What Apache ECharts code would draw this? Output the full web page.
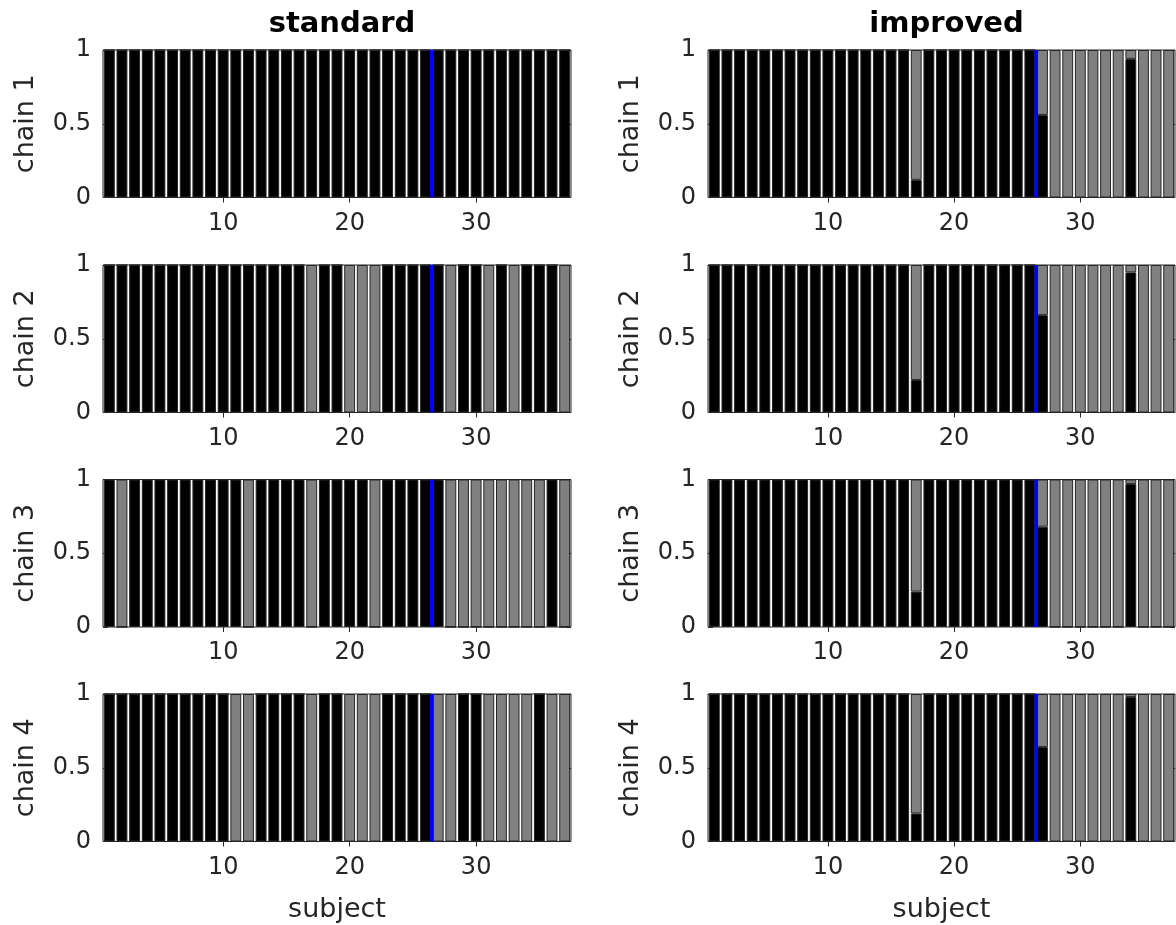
<!DOCTYPE html>
<html>
<head>
<meta charset="utf-8">
<script src="https://cdn.jsdelivr.net/npm/echarts@6/dist/echarts.min.js"></script>
<style>
  html, body { margin: 0; padding: 0; background: #fff; }
  #chart { width: 1176px; height: 925px; }
</style>
</head>
<body>
<div id="chart"></div>
<script>
// subjects on the x axis
const subjects = [1, 2, 3, 4, 5, 6, 7, 8, 9, 10, 11, 12, 13, 14, 15, 16, 17, 18, 19,
  20, 21, 22, 23, 24, 25, 26, 27, 28, 29, 30, 31, 32, 33, 34, 35, 36, 37]
const xTicks = [10, 20, 30]
const splitAt = 26.5   // blue separator

// share assigned to cluster 1 (black), the rest (gray) is 1 - value
const standard1 = [1, 1, 1, 1, 1, 1, 1, 1, 1, 1, 1, 1, 1, 1, 1, 1, 1, 1, 1, 1,
  1, 1, 1, 1, 1, 1, 1, 1, 1, 1, 1, 1, 1, 1, 1, 1, 1]
const standard2 = [1, 1, 1, 1, 1, 1, 1, 1, 1, 1, 1, 1, 1, 1, 1, 1, 0, 1, 1, 0,
  0, 0, 1, 1, 1, 1, 1, 0, 1, 1, 0, 1, 0, 1, 1, 1, 0]
const standard3 = [1, 0, 1, 1, 1, 1, 1, 1, 1, 1, 1, 0, 1, 1, 1, 1, 0, 1, 1, 1,
  1, 0, 1, 1, 1, 1, 1, 0, 0, 0, 0, 0, 0, 0, 0, 1, 0]
const standard4 = [1, 1, 1, 1, 1, 1, 1, 1, 1, 1, 0, 0, 1, 1, 1, 1, 0, 1, 1, 0,
  0, 0, 1, 1, 1, 1, 0, 0, 1, 1, 0, 0, 0, 0, 1, 0, 0]
const improved1 = [1, 1, 1, 1, 1, 1, 1, 1, 1, 1, 1, 1, 1, 1, 1, 1, 0.12, 1, 1, 1,
  1, 1, 1, 1, 1, 1, 0.56, 0, 0, 0, 0, 0, 0, 0.94, 0, 0, 0]
const improved2 = [1, 1, 1, 1, 1, 1, 1, 1, 1, 1, 1, 1, 1, 1, 1, 1, 0.22, 1, 1, 1,
  1, 1, 1, 1, 1, 1, 0.66, 0, 0, 0, 0, 0, 0, 0.95, 0, 0, 0]
const improved3 = [1, 1, 1, 1, 1, 1, 1, 1, 1, 1, 1, 1, 1, 1, 1, 1, 0.24, 1, 1, 1,
  1, 1, 1, 1, 1, 1, 0.68, 0, 0, 0, 0, 0, 0, 0.97, 0, 0, 0]
const improved4 = [1, 1, 1, 1, 1, 1, 1, 1, 1, 1, 1, 1, 1, 1, 1, 1, 0.19, 1, 1, 1,
  1, 1, 1, 1, 1, 1, 0.64, 0, 0, 0, 0, 0, 0, 0.98, 0, 0, 0]

const columns = [
  { title: 'standard', chains: [standard1, standard2, standard3, standard4] },
  { title: 'improved', chains: [improved1, improved2, improved3, improved4] }
]

const font = 'DejaVu Sans'
const textColor = '#262626'
const colLeft = [103, 708]
const colWidth = [468, 467]
const rowTop = [50, 265, 479.5, 694]
const rowHeight = 147.5

const grid = []
const xAxis = []
const yAxis = []
const series = []
const title = []

// show label / tick only on subjects 10, 20, 30
const onTick = (index) => xTicks.indexOf(subjects[index]) >= 0

columns.forEach((col, c) => {
  title.push({
    text: col.title,
    left: colLeft[c] + colWidth[c] / 2,
    top: 5,
    textAlign: 'center',
    textStyle: { fontFamily: font, fontSize: 29, fontWeight: 'bold', color: '#000' }
  })
  col.chains.forEach((vals, r) => {
    const g = grid.length
    grid.push({
      left: colLeft[c],
      top: rowTop[r],
      width: colWidth[c],
      height: rowHeight,
      show: true,
      backgroundColor: '#fff',
      borderColor: textColor,
      borderWidth: 1
    })
    const last = r === col.chains.length - 1
    // bottom category axis carrying the bars
    xAxis.push({
      gridIndex: g,
      type: 'category',
      data: subjects,
      boundaryGap: true,
      name: last ? 'subject' : '',
      nameLocation: 'middle',
      nameGap: 55,
      nameTextStyle: { fontFamily: font, fontSize: 27, color: textColor },
      axisLine: { show: false },
      splitLine: { show: false },
      axisTick: { inside: true, length: 5, alignWithLabel: true, interval: onTick, lineStyle: { color: textColor } },
      axisLabel: { interval: onTick, fontFamily: font, fontSize: 24, color: textColor, margin: 14 }
    })
    // top value axis, ticks only, also used for the separator line
    xAxis.push({
      gridIndex: g,
      type: 'value',
      position: 'top',
      min: 0.5,
      max: 37.5,
      axisLine: { show: false },
      splitLine: { show: false },
      axisTick: { inside: true, length: 5, customValues: xTicks, lineStyle: { color: textColor } },
      axisLabel: { show: false }
    })
    yAxis.push({
      gridIndex: g,
      type: 'value',
      min: 0,
      max: 1,
      interval: 0.5,
      name: 'chain ' + (r + 1),
      nameLocation: 'middle',
      nameGap: 64,
      nameTextStyle: { fontFamily: font, fontSize: 27, color: textColor },
      axisLine: { show: false },
      splitLine: { show: false },
      axisTick: { inside: true, length: 5, lineStyle: { color: textColor } },
      axisLabel: { fontFamily: font, fontSize: 24, color: textColor, margin: 12 }
    })
    yAxis.push({
      gridIndex: g,
      type: 'value',
      position: 'right',
      min: 0,
      max: 1,
      interval: 0.5,
      axisLine: { show: false },
      splitLine: { show: false },
      axisTick: { inside: true, length: 5, lineStyle: { color: textColor } },
      axisLabel: { show: false }
    })
    series.push({
      type: 'bar',
      xAxisIndex: g * 2,
      yAxisIndex: g * 2,
      stack: 'p' + g,
      barWidth: '86%',
      data: vals,
      itemStyle: { color: '#000', borderColor: textColor, borderWidth: 1 }
    })
    series.push({
      type: 'bar',
      xAxisIndex: g * 2,
      yAxisIndex: g * 2,
      stack: 'p' + g,
      barWidth: '86%',
      data: vals.map(v => +(1 - v).toFixed(2)),
      itemStyle: { color: '#808080', borderColor: textColor, borderWidth: 1 }
    })
    series.push({
      type: 'line',
      xAxisIndex: g * 2 + 1,
      yAxisIndex: g * 2,
      z: 10,
      symbol: 'none',
      silent: true,
      data: [[splitAt, 0], [splitAt, 1]],
      lineStyle: { color: '#0000ff', width: 3.5 }
    })
  })
})

const chart = echarts.init(document.getElementById('chart'))
chart.setOption({
  animation: false,
  backgroundColor: '#fff',
  title: title,
  grid: grid,
  xAxis: xAxis,
  yAxis: yAxis,
  series: series
})
</script>
</body>
</html>
